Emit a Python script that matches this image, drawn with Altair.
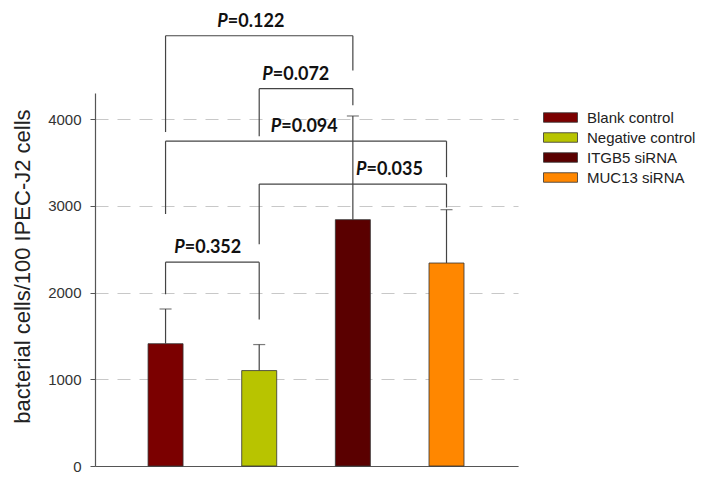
import altair as alt
import pandas as pd

# ---- data ----
groups = ["Blank control", "Negative control", "ITGB5 siRNA", "MUC13 siRNA"]
means = [1410, 1100, 2840, 2340]
errors = [400, 300, 1195, 615]
colors = ["#7B0000", "#B8C400", "#5A0000", "#FF8700"]

# significance brackets (group numbers 1..4)
pair_left = [1, 1, 2, 1, 2]
pair_right = [2, 3, 3, 4, 4]
bracket_top = [2350, 4960, 4350, 3745, 3250]
left_end = [1980, 3850, 3800, 2905, 2555]
right_end = [1690, 4560, 4160, 3330, 2980]
p_values = ["=0.352", "=0.122", "=0.072", "=0.094", "=0.035"]
label_frac = [0.44, 0.45, 0.38, 0.49, 0.69]

y_ticks = [0, 1000, 2000, 3000, 4000]

bars = pd.DataFrame({
    "group": groups,
    "pos": list(range(1, len(groups) + 1)),
    "mean": means,
    "upper": [m + e for m, e in zip(means, errors)],
})
brackets = pd.DataFrame({
    "left": pair_left,
    "right": pair_right,
    "top": bracket_top,
    "lend": left_end,
    "rend": right_end,
    "p": p_values,
    "frac": label_frac,
})

xscale = alt.Scale(domain=[0.3, 4.71], nice=False, zero=False)
yscale = alt.Scale(domain=[0, 4300], nice=False)
xaxis = alt.Axis(domain=True, domainColor="#555", domainWidth=1.2, ticks=False,
                 labels=False, grid=False, title=None)
yaxis = alt.Axis(values=y_ticks, format="d", grid=True, gridDash=[13, 9], gridColor="#c8c8c8",
                 gridWidth=1.2, domainColor="#555", domainWidth=1.2, tickColor="#555",
                 tickSize=5, labelFontSize=15, labelFont="Liberation Sans",
                 labelColor="#333", labelPadding=9,
                 title="bacterial cells/100 IPEC-J2 cells", titleFont="Liberation Sans",
                 titleFontSize=22, titleFontWeight="normal", titleColor="#222",
                 titleX=-61, titleY=173, titleAngle=-90)

base = alt.Chart(bars)

bar_layer = base.mark_bar(size=35, stroke="#333", strokeWidth=0.8).encode(
    x=alt.X("pos:Q", scale=xscale, axis=xaxis, title=None),
    y=alt.Y("mean:Q", scale=yscale, axis=yaxis),
    color=alt.Color("group:N", scale=alt.Scale(domain=groups, range=colors),
                    legend=alt.Legend(orient="none", legendX=458, legendY=17, title=None,
                                      padding=0,
                                      symbolType="M-3.4,-0.95H3.4V0.95H-3.4Z", symbolSize=100,
                                      symbolStrokeColor="#333", symbolStrokeWidth=0.8,
                                      symbolOpacity=1,
                                      labelFontSize=15, labelFont="Liberation Sans",
                                      labelColor="#222", labelOffset=19, labelLimit=300,
                                      rowPadding=4)),
)

err_rule = base.mark_rule(color="#444", strokeWidth=1.2).encode(
    x=alt.X("pos:Q", scale=xscale, axis=xaxis, title=None),
    y=alt.Y("mean:Q", scale=yscale, axis=yaxis),
    y2="upper:Q",
)
err_cap = base.mark_tick(color="#444", thickness=1.2, size=12, orient="horizontal").encode(
    x=alt.X("pos:Q", scale=xscale, axis=xaxis, title=None),
    y=alt.Y("upper:Q", scale=yscale, axis=yaxis),
)

bbase = alt.Chart(brackets)
rule_style = dict(color="#444", strokeWidth=1.2)
h_rule = bbase.mark_rule(**rule_style).encode(
    x=alt.X("left:Q", scale=xscale, axis=xaxis, title=None),
    x2="right:Q",
    y=alt.Y("top:Q", scale=yscale, axis=yaxis),
)
l_leg = bbase.mark_rule(**rule_style).encode(
    x=alt.X("left:Q", scale=xscale, axis=xaxis, title=None),
    y=alt.Y("top:Q", scale=yscale, axis=yaxis),
    y2="lend:Q",
)
r_leg = bbase.mark_rule(**rule_style).encode(
    x=alt.X("right:Q", scale=xscale, axis=xaxis, title=None),
    y=alt.Y("top:Q", scale=yscale, axis=yaxis),
    y2="rend:Q",
)
tbase = bbase.transform_calculate(
    mid="datum.left + datum.frac * (datum.right - datum.left)",
    ptxt="'P'",
)
text_font = dict(font="Lato", fontSize=18, fontWeight="bold", color="#111", dy=-9,
                 baseline="alphabetic")
p_text = tbase.mark_text(align="right", dx=-22, fontStyle="italic", **text_font).encode(
    x=alt.X("mid:Q", scale=xscale, axis=xaxis, title=None),
    y=alt.Y("top:Q", scale=yscale, axis=yaxis),
    text="ptxt:N",
)
v_text = tbase.mark_text(align="left", dx=-22, **text_font).encode(
    x=alt.X("mid:Q", scale=xscale, axis=xaxis, title=None),
    y=alt.Y("top:Q", scale=yscale, axis=yaxis),
    text="p:N",
)

chart = alt.layer(bar_layer, err_rule, err_cap, h_rule, l_leg, r_leg, p_text, v_text).properties(
    width=423,
    height=373,
    autosize=alt.AutoSizeParams(type="none"),
    padding={"left": 87, "top": 85, "right": 178, "bottom": 8},
    background="white",
).configure_view(stroke=None)

chart.save("out.html", embed_options={"renderer": "svg", "actions": False})
